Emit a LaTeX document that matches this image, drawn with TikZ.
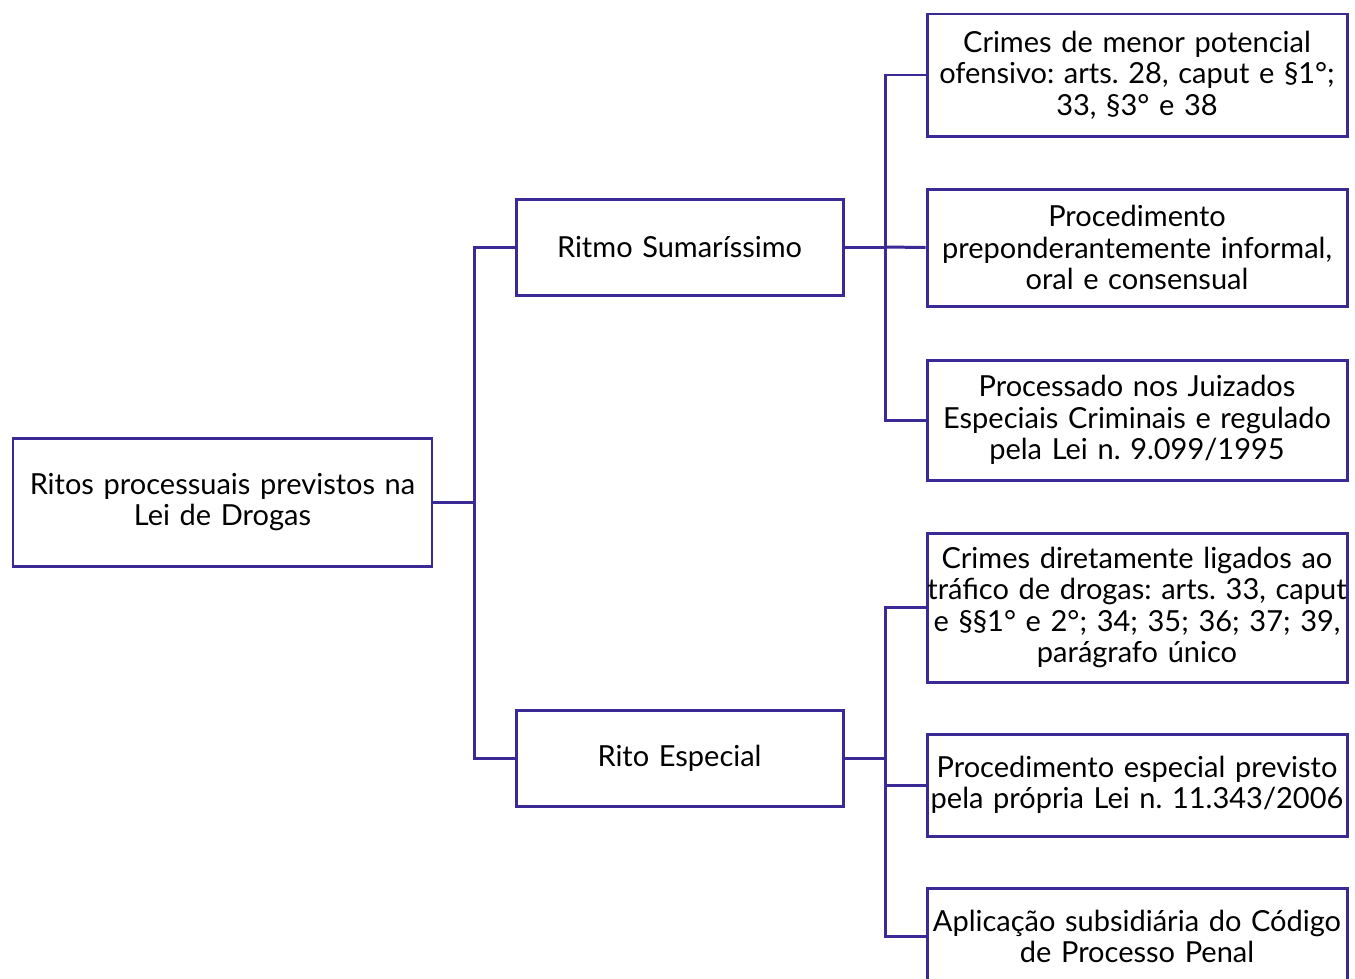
\documentclass[tikz,border=0pt]{standalone}
\usepackage{fontspec}
\setmainfont{Lato}
\usepackage{tikz}
\usetikzlibrary{positioning}

\definecolor{rito}{RGB}{58,42,150}
\newcommand{\pxu}{*0.02cm}

\tikzset{
  caixa/.style={draw=rito, line width=1.7pt, align=center, inner sep=0pt,
    font=\fontsize{16.5}{17.9}\selectfont\frenchspacing},
  caixaesq/.style={caixa, minimum width=419\pxu, minimum height=128\pxu, text width=400\pxu},
  caixameio/.style={caixa, minimum width=327\pxu, minimum height=96\pxu, text width=320\pxu},
  caixadir/.style={caixa, inner xsep=-12\pxu, text width=444\pxu},
  liga/.style={draw=rito, line width=1.7pt}
}

\begin{document}
\begin{tikzpicture}[x=0.02cm,y=-0.02cm]
  \useasboundingbox (0,0) rectangle (1355,978);

  % raiz
  \node[caixaesq] (raiz) at (222.5,502) {Ritos processuais previstos na\\Lei de Drogas};

  % ritos
  \node[caixameio] (sumar) at (679.5,247) {Ritmo Sumaríssimo};
  \node[caixameio] (espec) at (679.5,758) {Rito Especial};

  % ritmo sumarissimo
  \node[caixadir, minimum height=122\pxu] (s1) at (1137,75) {Crimes de menor potencial\\ofensivo: arts. 28, caput e §1°;\\33, §3° e 38};
  \node[caixadir, minimum height=117\pxu] (s2) at (1137,247.5) {Procedimento\\preponderantemente informal,\\oral e consensual};
  \node[caixadir, minimum height=120\pxu] (s3) at (1137,420) {Processado nos Juizados\\Especiais Criminais e regulado\\pela Lei n. 9.099/1995};

  % rito especial
  \node[caixadir, minimum height=149\pxu] (e1) at (1137,607.5) {Crimes diretamente ligados ao\\tráfico de drogas: arts. 33, caput\\e §§1° e 2°; 34; 35; 36; 37; 39,\\parágrafo único};
  \node[caixadir, minimum height=102\pxu] (e2) at (1137,785) {Procedimento especial previsto\\pela própria Lei n. 11.343/2006};
  \node[caixadir, minimum height=97\pxu] (e3) at (1137,936.5) {Aplicação subsidiária do Código\\de Processo Penal};

  % ligacoes
  \coordinate (b0) at (474,502);
  \coordinate (b1) at (885,247);
  \coordinate (b2) at (885,758);
  \draw[liga] (raiz.east) -- (b0);
  \draw[liga] (b0) |- (sumar.west);
  \draw[liga] (b0) |- (espec.west);
  \draw[liga] (sumar.east) -- (b1);
  \draw[liga] (b1) |- (s1.west);
  \draw[liga] (b1) -- (s2.west);
  \draw[liga] (b1) |- (s3.west);
  \draw[liga] (espec.east) -- (b2);
  \draw[liga] (b2) |- (e1.west);
  \draw[liga] (b2) |- (e2.west);
  \draw[liga] (b2) |- (e3.west);
\end{tikzpicture}
\end{document}
